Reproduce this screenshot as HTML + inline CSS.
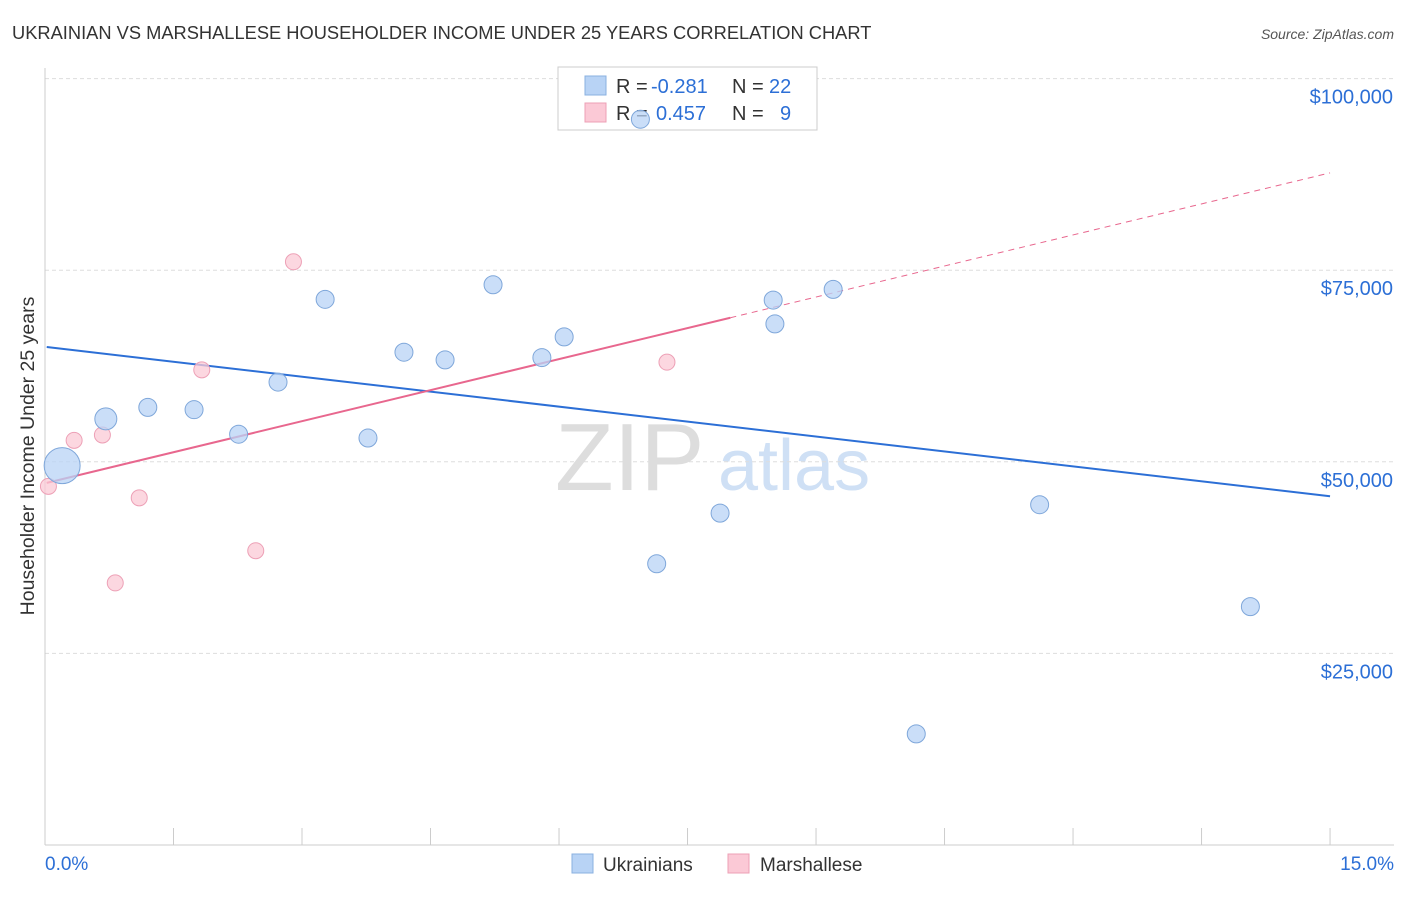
<!DOCTYPE html>
<html><head><meta charset="utf-8"><style>
body{margin:0;background:#fff;font-family:"Liberation Sans",sans-serif;}
svg text{font-family:"Liberation Sans",sans-serif;}
</style></head><body>
<svg id="chart" width="1406" height="892" viewBox="0 0 1406 892" xmlns="http://www.w3.org/2000/svg">
<text x="12" y="39" font-size="18.3" fill="#333">UKRAINIAN VS MARSHALLESE HOUSEHOLDER INCOME UNDER 25 YEARS CORRELATION CHART</text>
<text x="1394" y="39" font-size="14" fill="#555" text-anchor="end" font-style="italic">Source: ZipAtlas.com</text>
<text transform="translate(34,456) rotate(-90)" font-size="19.5" fill="#333" text-anchor="middle">Householder Income Under 25 years</text>
<g><text x="555" y="490" font-size="96" fill="#ddd" font-family="Liberation Serif">ZIP</text><text x="718" y="490" font-size="72" fill="#cfe0f5">atlas</text></g>
<g id="grid"></g><g id="axes"></g>
<g>
<rect x="558" y="67" width="259" height="63" fill="#fff" stroke="#ccc"/>
<rect x="585" y="76" width="21" height="19" fill="#b8d3f5" stroke="#8ab0e0"/>
<rect x="585" y="103" width="21" height="19" fill="#fbc9d6" stroke="#eda0b6"/>
<text x="616" y="93" font-size="20" fill="#333">R =</text>
<text x="651" y="93" font-size="20" fill="#2c6fd6">-0.281</text>
<text x="732" y="93" font-size="20" fill="#333">N =</text>
<text x="769" y="93" font-size="20" fill="#2c6fd6">22</text>
<text x="616" y="120" font-size="20" fill="#333">R =</text>
<text x="656" y="120" font-size="20" fill="#2c6fd6">0.457</text>
<text x="732" y="120" font-size="20" fill="#333">N =</text>
<text x="780" y="120" font-size="20" fill="#2c6fd6">9</text>
</g>
<g id="lines"></g><g id="points"></g>
<g>
<rect x="572" y="854" width="21" height="19" fill="#b8d3f5" stroke="#8ab0e0"/>
<text x="603" y="871" font-size="19" fill="#333">Ukrainians</text>
<rect x="728" y="854" width="21" height="19" fill="#fbc9d6" stroke="#eda0b6"/>
<text x="760" y="871" font-size="19" fill="#333">Marshallese</text>
</g>
</svg>
<script>
const yTicks=[25000,50000,75000,100000];
const yTickLabels=["$25,000","$50,000","$75,000","$100,000"];
const ukrX=[0.2,0.71,1.2,1.74,2.26,2.72,3.27,3.77,4.19,4.67,5.23,5.8,6.06,6.95,7.14,7.88,8.5,8.52,9.2,10.17,11.61,14.07];
const ukrY=[49500,55600,57100,56800,53600,60400,71200,53100,64300,63300,73100,63600,66300,94700,36700,43300,71100,68000,72500,14500,44400,31100];
const ukrR=[18,11,9,9,9,9,9,9,9,9,9,9,9,9,9,9,9,9,9,9,9,9];
const marX=[0.04,0.34,0.67,0.82,1.1,1.83,2.46,2.9,7.26];
const marY=[46800,52800,53500,34200,45300,62000,38400,76100,63000];
const ukrTrend=[65000,-1300];
const marTrend=[47200,2700];
const NS="http://www.w3.org/2000/svg";
const X=p=>45+p*85.67, Y=v=>845-v/25000*191.6;
function mk(tag,attrs,parent){const e=document.createElementNS(NS,tag);for(const k in attrs)e.setAttribute(k,attrs[k]);document.getElementById(parent).appendChild(e);return e;}
yTicks.forEach((t,i)=>{
 const l=mk('line',{x1:45,x2:1394,y1:Y(t),y2:Y(t),stroke:'#ddd','stroke-dasharray':'4,3'},'grid');
 
 
 const tx=mk('text',{x:1393,y:Y(t)+25,'font-size':20,fill:'#2c6fd6','text-anchor':'end'},'grid');
 tx.textContent=yTickLabels[i];
 
 
});
const ax=mk('line',{x1:45,x2:45,y1:68,y2:845,stroke:'#ccc'},'axes');


const bx=mk('line',{x1:45,x2:1394,y1:845,y2:845,stroke:'#ccc'},'axes');


for(let i=0;i<=10;i++){const t=mk('line',{x1:X(i*1.5),x2:X(i*1.5),y1:828,y2:845,stroke:'#ccc'},'axes');
 
 }
[[0,"0.0%","start",45],[15,"15.0%","end",1394]].forEach(a=>{const t=mk('text',{x:a[3],y:870,'font-size':19,fill:'#2c6fd6','text-anchor':a[2]},'axes');t.textContent=a[1];
 
 });
const tv=(tr,p)=>tr[0]+tr[1]*p;
const ul=mk('line',{x1:X(0.02),y1:Y(tv(ukrTrend,0.02)),x2:X(15),y2:Y(tv(ukrTrend,15)),stroke:'#2c6fd6','stroke-width':2},'lines');


const ml=mk('line',{x1:X(0.02),y1:Y(tv(marTrend,0.02)),x2:X(8),y2:Y(tv(marTrend,8)),stroke:'#e8678e','stroke-width':2},'lines');


const md=mk('line',{x1:X(8),y1:Y(tv(marTrend,8)),x2:X(15),y2:Y(tv(marTrend,15)),stroke:'#e8678e','stroke-width':1,'stroke-dasharray':'6,5'},'lines');


marX.forEach((p,i)=>{const c=mk('circle',{cx:X(p),cy:Y(marY[i]),r:8,fill:'#fbc9d6','fill-opacity':0.75,stroke:'#eda0b6'},'points');
 
 });
ukrX.forEach((p,i)=>{const c=mk('circle',{cx:X(p),cy:Y(ukrY[i]),r:ukrR[i],fill:'#b8d3f5','fill-opacity':0.75,stroke:'#7fa7da'},'points');
 
 });
</script>
</body></html>
